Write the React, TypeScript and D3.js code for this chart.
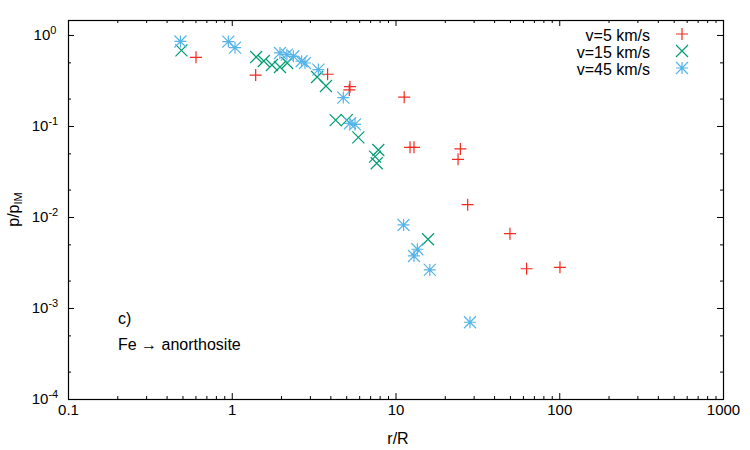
import React, { useRef, useEffect } from 'react';
import * as d3 from 'd3';

const WIDTH = 750;
const HEIGHT = 450;
const FONT = "'Liberation Sans', Arial, Helvetica, sans-serif";

// v = 5 km/s
const slowR = [0.605, 1.4, 3.85, 5.27, 5.22, 11.3, 12.27, 12.97, 24.9, 24.1, 27.6, 50, 63.2, 101];
const slowP = [0.568, 0.362, 0.37, 0.27, 0.249, 0.207, 0.0583, 0.0583, 0.0559, 0.043, 0.01365, 0.00656, 0.0027, 0.0028];

// v = 15 km/s
const midR = [0.493, 1.41, 1.57, 1.76, 1.97, 2.18, 3.32, 3.76, 4.31, 5.04, 5.93, 7.85, 7.5, 7.68, 15.8];
const midP = [0.676, 0.573, 0.518, 0.468, 0.445, 0.492, 0.345, 0.275, 0.116, 0.116, 0.075, 0.0545, 0.046, 0.0389, 0.00569];

// v = 45 km/s
const fastR = [0.486, 0.953, 1.047, 1.97, 2.17, 2.38, 2.67, 2.8, 3.38, 4.8, 5.27, 5.66, 11.2, 13.6, 12.97, 16.2, 28.5];
const fastP = [0.848, 0.845, 0.725, 0.634, 0.607, 0.583, 0.514, 0.492, 0.416, 0.205, 0.107, 0.104, 0.00817, 0.00442, 0.00373, 0.00262, 0.000697];

const seriesNames = ['v=5 km/s', 'v=15 km/s', 'v=45 km/s'];
const seriesColors = ['#f02a1e', '#009e73', '#56b4e9'];

const xTicks = [0.1, 1, 10, 100, 1000];
const xTickLabels = ['0.1', '1', '10', '100', '1000'];
const yTicks = [1e-4, 1e-3, 1e-2, 1e-1, 1];
const yTickExponents = ['-4', '-3', '-2', '-1', '0'];

// gnuplot-like point types: plus, cross, star
const S = 6;
const plusPath = `M${-S},0H${S}M0,${-S}V${S}`;
const crossPath = `M${-S},${-S}L${S},${S}M${-S},${S}L${S},${-S}`;
const starPath = plusPath + crossPath;
const symbols = [plusPath, crossPath, starPath];

export default function App() {
  const svgEl = useRef<SVGSVGElement>(null);
  const margin = { top: 20, right: 27, bottom: 51, left: 68 };

  useEffect(() => {
    const svg = d3.select(svgEl.current);
    svg.selectAll('*').remove();

    const w = WIDTH - margin.left - margin.right;
    const h = HEIGHT - margin.top - margin.bottom;

    const x = d3.scaleLog().domain([0.1, 1000]).range([0, w]);
    const y = d3.scaleLog().domain([1e-4, 1.46]).range([h, 0]);

    const xMinor: number[] = [];
    xTicks.slice(0, -1).forEach((d) => {
      for (let k = 2; k <= 9; k++) xMinor.push(d * k);
    });
    const yMinor: number[] = [];
    yTicks.forEach((d) => {
      [2, 5].forEach((k) => {
        if (d * k < 1.46) yMinor.push(d * k);
      });
    });

    const g = svg
      .append('g')
      .attr('transform', `translate(${margin.left},${margin.top})`)
      .style('font-family', FONT);

    const axes = [
      { axis: d3.axisBottom(x).tickValues(xTicks), t: `translate(0,${h})`, size: 6 },
      { axis: d3.axisBottom(x).tickValues(xMinor), t: `translate(0,${h})`, size: 3 },
      { axis: d3.axisTop(x).tickValues(xTicks), t: 'translate(0,0)', size: 6 },
      { axis: d3.axisTop(x).tickValues(xMinor), t: 'translate(0,0)', size: 3 },
      { axis: d3.axisLeft(y).tickValues(yTicks), t: 'translate(0,0)', size: 6 },
      { axis: d3.axisLeft(y).tickValues(yMinor), t: 'translate(0,0)', size: 3 },
      { axis: d3.axisRight(y).tickValues(yTicks), t: `translate(${w},0)`, size: 6 },
      { axis: d3.axisRight(y).tickValues(yMinor), t: `translate(${w},0)`, size: 3 },
    ];
    axes.forEach((a) => {
      const ag = g
        .append('g')
        .attr('transform', a.t)
        .call(a.axis.tickSize(-a.size).tickSizeOuter(0).tickFormat(() => ''));
      ag.select('.domain').remove();
    });

    // x tick labels
    g.append('g')
      .attr('transform', `translate(0,${h})`)
      .call(
        d3
          .axisBottom(x)
          .tickValues(xTicks)
          .tickSize(0)
          .tickPadding(5)
          .tickFormat((d, i) => xTickLabels[i])
      )
      .call((sel) => sel.select('.domain').remove())
      .selectAll('text')
      .attr('font-size', 15)
      .attr('font-family', FONT)
      .attr('fill', '#000');

    // y tick labels with superscript exponents
    g.append('g')
      .selectAll('text')
      .data(yTicks)
      .join('text')
      .attr('x', -23)
      .attr('y', (d) => y(d) + 5)
      .attr('text-anchor', 'middle')
      .attr('font-size', 15)
      .each(function (d, i) {
        const t = d3.select(this);
        t.append('tspan').text('10');
        t.append('tspan')
          .attr('dy', -6)
          .attr('font-size', 11)
          .text(yTickExponents[i]);
      });

    // frame
    g.append('rect')
      .attr('x', 0.5)
      .attr('y', 0.5)
      .attr('width', w)
      .attr('height', h)
      .attr('fill', 'none')
      .attr('stroke', '#000')
      .attr('stroke-width', 1.2);

    // data points
    const data = [
      { r: slowR, p: slowP },
      { r: midR, p: midP },
      { r: fastR, p: fastP },
    ];
    data.forEach((s, si) => {
      g.append('g')
        .selectAll('path')
        .data(s.r.map((r, i) => [r, s.p[i]]))
        .join('path')
        .attr('transform', (d) => `translate(${x(d[0])},${y(d[1])})`)
        .attr('d', symbols[si])
        .attr('fill', 'none')
        .attr('stroke', seriesColors[si])
        .attr('stroke-width', 1.2);
    });

    // legend
    const legend = g.append('g');
    seriesNames.forEach((name, i) => {
      const cy = 14 + i * 17;
      legend
        .append('text')
        .attr('x', 650 - margin.left)
        .attr('y', cy + 2)
        .attr('text-anchor', 'end')
        .attr('font-size', 16)
        .attr('dy', '0.32em')
        .text(name);
      legend
        .append('path')
        .attr('transform', `translate(${682 - margin.left},${cy})`)
        .attr('d', symbols[i])
        .attr('fill', 'none')
        .attr('stroke', seriesColors[i])
        .attr('stroke-width', 1.2);
    });

    // panel annotation
    g.append('text')
      .attr('x', 118 - margin.left)
      .attr('y', 324 - margin.top)
      .attr('font-size', 16)
      .text('c)');
    g.append('text')
      .attr('x', 118 - margin.left)
      .attr('y', 350 - margin.top)
      .attr('font-size', 16)
      .text('Fe \u2192 anorthosite');

    // axis titles
    g.append('text')
      .attr('x', 398 - margin.left)
      .attr('y', 444 - margin.top)
      .attr('text-anchor', 'middle')
      .attr('font-size', 16)
      .text('r/R');
    const yl = svg
      .append('text')
      .attr('transform', `translate(19,${margin.top + h / 2}) rotate(-90)`)
      .attr('text-anchor', 'middle')
      .attr('font-family', FONT)
      .attr('font-size', 16);
    yl.append('tspan').text('p/p');
    yl.append('tspan').attr('dy', 3).attr('font-size', 11).text('IM');
  }, []);

  return (
    <svg
      ref={svgEl}
      width={WIDTH}
      height={HEIGHT}
      style={{ position: 'absolute', left: 0, top: 0, background: '#fff' }}
    />
  );
}
